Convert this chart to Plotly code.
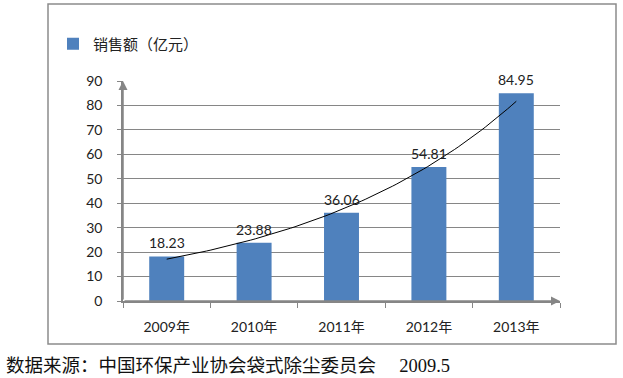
import numpy as np
import plotly.graph_objects as go

# ---- data ----
years = ["2009年", "2010年", "2011年", "2012年", "2013年"]
sales = [18.23, 23.88, 36.06, 54.81, 84.95]
series_name = "销售额（亿元）"
y_ticks = [0, 10, 20, 30, 40, 50, 60, 70, 80, 90]
caption = "数据来源：中国环保产业协会袋式除尘委员会     2009.5"

W, H = 623, 378
ML, MR, MT, MB = 123, 63, 81, 77
PW, PH = W - ML - MR, H - MT - MB

def px_x(px):
    return (px - ML) / PW

def px_y(py):
    return (H - MB - py) / PH

BLUE = "#4F81BD"
GRAY = "#868686"
FONT = "Lato, 'Noto Sans CJK SC', sans-serif"

# exponential trend line (least-squares fit on log values, as a spreadsheet trendline)
idx = np.arange(len(sales))
b, a = np.polyfit(idx, np.log(sales), 1)
tx = np.linspace(0, len(sales) - 1, 80)
ty = np.exp(a + b * tx)

fig = go.Figure()
fig.add_trace(go.Bar(
    x=years, y=sales, name=series_name, marker_color=BLUE,
    marker_line_width=0, showlegend=True,
))
fig.add_trace(go.Scatter(
    x=tx, y=ty, xaxis="x2", mode="lines", showlegend=False,
    line=dict(color="#000000", width=1), hoverinfo="skip",
))

annotations = []
for yr, v in zip(years, sales):
    annotations.append(dict(
        x=yr, y=v, xref="x", yref="y", text=f"{v:.2f}", showarrow=False,
        yanchor="bottom", yshift=3, font=dict(family=FONT, size=14, color="#222"),
    ))
# axis arrows
annotations.append(dict(
    x=0, y=1.0, ax=0, ay=0, xref="x domain", yref="y domain",
    axref="x domain", ayref="y domain",
    showarrow=True, arrowhead=2, arrowsize=1.2, arrowwidth=1.5, arrowcolor=GRAY, text="",
))
annotations.append(dict(
    x=1.0, y=0, ax=0, ay=0, xref="x domain", yref="y domain",
    axref="x domain", ayref="y domain",
    showarrow=True, arrowhead=2, arrowsize=1.2, arrowwidth=1.5, arrowcolor=GRAY, text="",
))
# caption
annotations.append(dict(
    x=px_x(4), y=px_y(366), xref="paper", yref="paper", xanchor="left", yanchor="middle",
    text=caption, showarrow=False,
    font=dict(family="'Liberation Serif', 'Noto Sans CJK SC', serif", size=18.5, color="#111"),
))

fig.update_layout(
    width=W, height=H,
    margin=dict(l=ML, r=MR, t=MT, b=MB, autoexpand=False),
    paper_bgcolor="white", plot_bgcolor="white",
    bargap=0.6,
    font=dict(family=FONT, size=14, color="#222"),
    xaxis=dict(
        type="category", tickson="boundaries", ticks="outside", ticklen=5,
        tickcolor=GRAY, showline=True, linecolor=GRAY, linewidth=1.5,
        showgrid=False, ticklabelstandoff=12, tickfont=dict(size=14),
    ),
    xaxis2=dict(overlaying="x", range=[-0.5, len(sales) - 0.5], visible=False),
    yaxis=dict(
        range=[0, 90], tickvals=y_ticks, ticks="outside", ticklen=4, tickcolor=GRAY,
        showline=True, linecolor=GRAY, linewidth=1.5, showgrid=True,
        gridcolor=GRAY, gridwidth=1, zeroline=False, ticklabelstandoff=12,
        tickfont=dict(size=14),
    ),
    legend=dict(
        x=px_x(53), y=px_y(44), xanchor="left", yanchor="middle",
        font=dict(family=FONT, size=15, color="#222"), itemwidth=30,
        bgcolor="rgba(0,0,0,0)",
    ),
    annotations=annotations,
    shapes=[dict(
        type="rect", xref="paper", yref="paper",
        x0=px_x(48), x1=px_x(616), y0=px_y(344), y1=px_y(4),
        line=dict(color="#8c8c8c", width=1.5), fillcolor="rgba(0,0,0,0)", layer="below",
    )],
    showlegend=True,
)

fig.write_html("out.html", config={"displayModeBar": False},
               post_script="document.body.style.margin='0';")
